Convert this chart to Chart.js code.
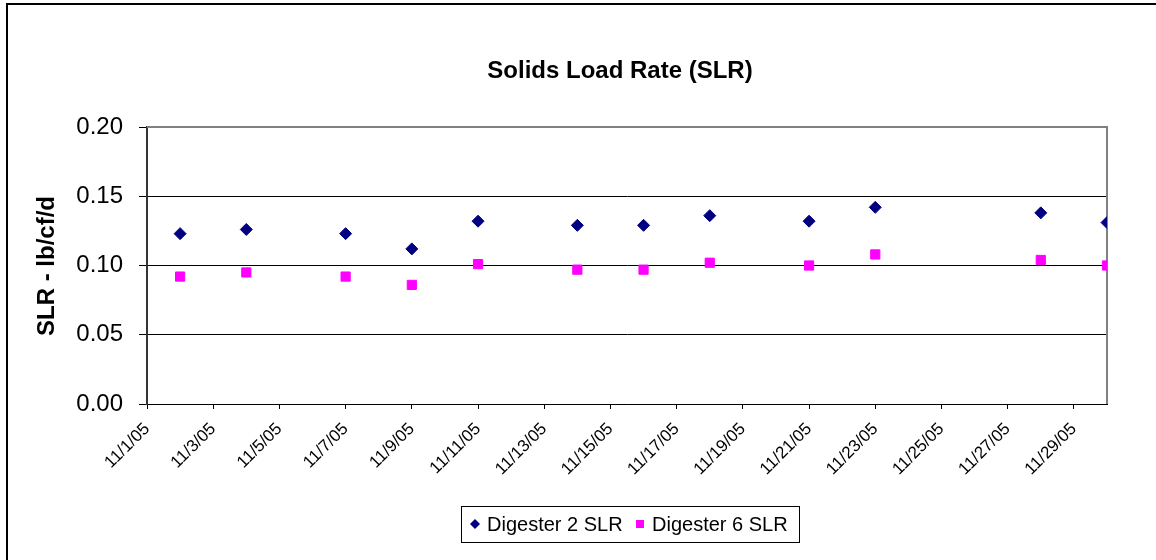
<!DOCTYPE html>
<html>
<head>
<meta charset="utf-8">
<script src="https://cdn.jsdelivr.net/npm/chart.js@4/dist/chart.umd.min.js"></script>
<style>
  html, body { margin: 0; padding: 0; background: #fff; }
  #wrap { width: 1156px; height: 560px; }
</style>
</head>
<body>
<div id="wrap"><canvas id="myChart" width="1156" height="560"></canvas></div>
<script>
const TITULO = 'Solids Load Rate (SLR)'
const TITULO_Y = 'SLR - lb/cf/d'

// fechas de las muestras (noviembre 2005)
const fechas = ['11/2/05', '11/4/05', '11/7/05', '11/9/05', '11/11/05', '11/14/05',
    '11/16/05', '11/18/05', '11/21/05', '11/23/05', '11/28/05', '11/30/05']

const digester2 = [0.123, 0.126, 0.123, 0.112, 0.132, 0.129, 0.129, 0.136, 0.132, 0.142, 0.138, 0.131]
const digester6 = [0.092, 0.095, 0.092, 0.086, 0.101, 0.097, 0.097, 0.102, 0.100, 0.108, 0.104, 0.100]

const etiquetasX = ['11/1/05', '11/3/05', '11/5/05', '11/7/05', '11/9/05', '11/11/05', '11/13/05',
    '11/15/05', '11/17/05', '11/19/05', '11/21/05', '11/23/05', '11/25/05', '11/27/05', '11/29/05']
const etiquetasY = ['0.00', '0.05', '0.10', '0.15', '0.20']

const dia = (s) => parseInt(s.split('/')[1])

const puntos = (serie) => serie.map((v, i) => ({ x: dia(fechas[i]), y: v }))

const marco = {
    id: 'marco',
    beforeDatasetsDraw(chart) {
        const { ctx, chartArea: a } = chart
        ctx.save()
        ctx.strokeStyle = '#808080'
        ctx.lineWidth = 2
        ctx.beginPath()
        ctx.moveTo(a.left, a.top)
        ctx.lineTo(a.right, a.top)
        ctx.lineTo(a.right, a.bottom)
        ctx.stroke()
        ctx.restore()
    },
    afterDraw(chart) {
        const { ctx } = chart
        ctx.save()
        // borde exterior
        ctx.strokeStyle = '#000'
        ctx.lineWidth = 2
        ctx.beginPath()
        ctx.moveTo(7, 560)
        ctx.lineTo(7, 4)
        ctx.lineTo(1156, 4)
        ctx.stroke()

        // titulo
        ctx.fillStyle = '#000'
        ctx.font = 'bold 24px "Liberation Sans", Arial, sans-serif'
        ctx.textAlign = 'center'
        ctx.textBaseline = 'middle'
        ctx.fillText(TITULO, 620, 71)

        // titulo eje y
        ctx.save()
        ctx.translate(47, 266)
        ctx.rotate(-Math.PI / 2)
        ctx.fillText(TITULO_Y, 0, 0)
        ctx.restore()

        // leyenda
        ctx.lineWidth = 1
        ctx.strokeStyle = '#000'
        ctx.strokeRect(461.5, 506.5, 338, 36)
        ctx.font = '20px "Liberation Sans", Arial, sans-serif'
        ctx.textAlign = 'left'
        const ds = chart.data.datasets
        ctx.fillStyle = ds[0].backgroundColor
        ctx.beginPath()
        ctx.moveTo(475, 519); ctx.lineTo(480, 524); ctx.lineTo(475, 529); ctx.lineTo(470, 524)
        ctx.closePath()
        ctx.fill()
        ctx.fillStyle = '#000'
        ctx.fillText(ds[0].label, 487, 525)
        ctx.fillStyle = ds[1].backgroundColor
        ctx.fillRect(636, 520, 8, 8)
        ctx.fillStyle = '#000'
        ctx.fillText(ds[1].label, 652, 525)
        ctx.restore()
    }
}

var ctx = document.getElementById('myChart')
var myChart = new Chart(ctx, {
    type: 'scatter',
    data: {
        datasets: [{
            label: 'Digester 2 SLR',
            data: puntos(digester2),
            pointStyle: 'rectRot',
            pointRadius: 6,
            backgroundColor: '#000080',
            borderColor: '#000080',
            borderWidth: 1
        }, {
            label: 'Digester 6 SLR',
            data: puntos(digester6),
            pointStyle: 'rect',
            pointRadius: 6.5,
            backgroundColor: '#FF00FF',
            borderColor: '#FF00FF',
            borderWidth: 1
        }]
    },
    options: {
        responsive: false,
        animation: false,
        layout: { padding: { top: 127, right: 49, left: 0, bottom: 0 } },
        plugins: {
            legend: { display: false },
            title: { display: false },
            tooltip: { enabled: false }
        },
        scales: {
            x: {
                type: 'linear',
                min: 1,
                max: 30,
                afterFit: (s) => { s.height = 156 },
                afterBuildTicks: (s) => {
                    s.ticks = etiquetasX.map(t => ({ value: dia(t) }))
                },
                ticks: {
                    callback: (v) => '11/' + v + '/05',
                    autoSkip: false,
                    maxRotation: 45,
                    minRotation: 45,
                    padding: 10,
                    color: '#000',
                    font: { family: '"Liberation Sans", Arial, sans-serif', size: 17 }
                },
                grid: {
                    drawOnChartArea: false,
                    drawTicks: true,
                    tickLength: 5,
                    color: '#000'
                },
                border: { color: '#000', width: 1 }
            },
            y: {
                min: 0,
                max: 0.2,
                afterFit: (s) => { s.width = 147 },
                afterBuildTicks: (s) => {
                    s.ticks = etiquetasY.map(t => ({ value: parseFloat(t) }))
                },
                ticks: {
                    callback: (v) => v.toFixed(2),
                    padding: 16,
                    color: '#000',
                    font: { family: '"Liberation Sans", Arial, sans-serif', size: 24 }
                },
                grid: {
                    color: (c) => (c.tick && c.tick.value >= 0.2) ? 'rgba(0,0,0,0)' : '#000',
                    tickColor: '#000',
                    tickLength: 8
                },
                border: { color: '#333', width: 2 }
            }
        }
    },
    plugins: [marco]
})
</script>
</body>
</html>
